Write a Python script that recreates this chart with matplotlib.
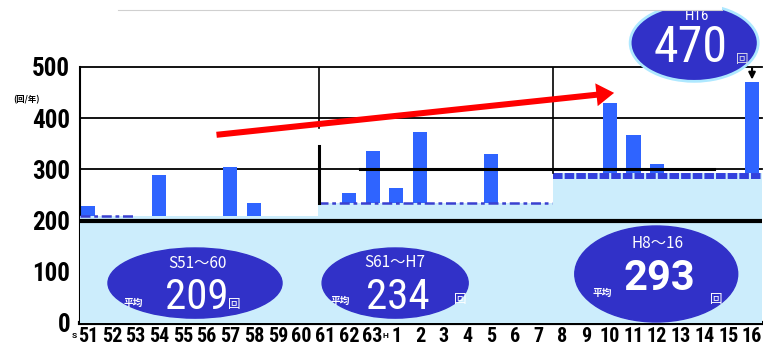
import matplotlib.pyplot as plt
from matplotlib.patches import Ellipse, FancyArrowPatch, Rectangle
from matplotlib.lines import Line2D

# 年 (S51〜S63, H1〜H16)
years = ['51', '52', '53', '54', '55', '56', '57', '58', '59', '60', '61', '62', '63',
         '1', '2', '3', '4', '5', '6', '7', '8', '9', '10', '11', '12', '13', '14', '15', '16']
# 回/年
counts = [228, 190, 185, 290, 150, 160, 305, 234, 170, 178,
          160, 254, 335, 264, 374, 150, 165, 330, 140, 168,
          220, 200, 430, 367, 310, 215, 205, 220, 470]

periods = ['S51～60', 'S61～H7', 'H8～16']
period_avg = [209, 234, 293]
period_edges = [-0.34, 9.7, 19.6, 28.42]

COND = ['Roboto Condensed', 'DejaVu Sans']
SANS = ['Roboto', 'DejaVu Sans']
JP = ['Noto Sans CJK JP', 'DejaVu Sans']
BAR = '#2f64ff'
PALE = '#ccedfc'
DARK = '#3131c8'

fig = plt.figure(figsize=(7.63, 3.5), dpi=100)
ax = fig.add_axes([80 / 763, 27 / 350, 682 / 763, 256 / 350])
x = range(len(years))

# bars from zero, the period average band is laid over them
ax.bar(x, counts, width=0.6, color=BAR, zorder=2)
for i in range(3):
    ax.fill_between([period_edges[i], period_edges[i + 1]], 0, period_avg[i],
                    color=PALE, lw=0, zorder=3)

ax.plot([-0.34, 1.98], [period_avg[0]] * 2, color='#3a40d0', lw=1.8,
        dashes=[4, 1.5, 1.5, 1.5], zorder=4)
ax.plot([9.7, 19.55], [period_avg[1]] * 2, color='#3a40d0', lw=1.8,
        dashes=[4, 1.5, 1.5, 1.5], zorder=4)
ax.plot([19.6, 28.42], [period_avg[2] - 5] * 2, color='#3340dd', lw=4.3,
        dashes=[1.6, 0.35], zorder=4)

# grid
for v in [300, 400, 500]:
    ax.axhline(v, color='black', lw=1.3, zorder=1, clip_on=False)
ax.axhline(200, color='black', lw=3, zorder=5)
ax.plot([11.47, 26.4], [300, 300], color='black', lw=2.2, zorder=5)

# period dividers
ax.plot([9.74, 9.74], [500, 380], color='black', lw=1.2, zorder=5)
ax.plot([9.74, 9.74], [345, 234], color='black', lw=2.2, zorder=5)
ax.plot([19.61, 19.61], [500, 293], color='black', lw=1.2, zorder=5)

ax.set_xlim(-0.34, 28.42)
ax.set_ylim(0, 500)
for s in ['top', 'right']:
    ax.spines[s].set_visible(False)
ax.spines['left'].set_linewidth(1.5)
ax.spines['bottom'].set_linewidth(3)

ax.set_yticks([0, 100, 200, 300, 400, 500])
ax.set_yticklabels(['0', '100', '200', '300', '400', '500'],
                   fontfamily=COND, fontstretch='condensed', fontsize=18, fontweight='bold')
ax.set_xticks(list(x))
ax.set_xticklabels(years, fontfamily=COND, fontstretch='condensed', fontsize=14.5, fontweight='bold')
ax.tick_params(axis='both', length=0)
ax.tick_params(axis='y', pad=7)
ax.tick_params(axis='x', pad=3)

# era marks in front of 51 and 1
ax.text(-0.6, -0.035, 'S', transform=ax.get_xaxis_transform(), fontsize=6,
        fontweight='bold', ha='center', va='top', family=SANS)
ax.text(12.55, -0.035, 'H', transform=ax.get_xaxis_transform(), fontsize=6,
        fontweight='bold', ha='center', va='top', family=SANS)
fig.text(27 / 763, 1 - 100 / 350, '(回/年)', fontsize=6, fontweight='bold',
         ha='center', va='center', family=JP)

# trend arrow
ax.add_patch(FancyArrowPatch((5.3, 367), (22.3, 450),
                             arrowstyle='simple,tail_width=0.29,head_width=1.1,head_length=0.85',
                             mutation_scale=15, color='red', lw=0, zorder=9))

# period average ellipses
ax.add_patch(Ellipse((4.51, 78), 7.34, 137, color=DARK, zorder=6))
ax.text(4.6, 117, periods[0], color='white', fontsize=11, ha='center', va='center', family=JP, zorder=7)
ax.text(4.6, 49, str(period_avg[0]), color='white', fontsize=31, ha='center', va='center',
        family=COND, fontstretch='condensed', zorder=7)
ax.text(1.9, 39, '平均', color='white', fontsize=7, fontweight='bold', ha='center', va='center',
        family=JP, zorder=7)
ax.text(6.15, 37, '回', color='white', fontsize=9, ha='center', va='center', family=JP, zorder=7)

ax.add_patch(Ellipse((12.95, 78), 6.16, 137, color=DARK, zorder=6))
ax.text(12.95, 119, periods[1], color='white', fontsize=11, ha='center', va='center', family=JP, zorder=7)
ax.text(13.07, 49, str(period_avg[1]), color='white', fontsize=31, ha='center', va='center',
        family=COND, fontstretch='condensed', zorder=7)
ax.text(10.63, 43, '平均', color='white', fontsize=7, fontweight='bold', ha='center', va='center',
        family=JP, zorder=7)
ax.text(15.7, 45, '回', color='white', fontsize=9, ha='center', va='center', family=JP, zorder=7)

ax.add_patch(Ellipse((23.96, 95.7), 6.87, 187.5, color=DARK, zorder=6))
ax.text(24.0, 156, periods[2], color='white', fontsize=11, ha='center', va='center', family=JP, zorder=7)
ax.text(24.1, 86, str(period_avg[2]), color='white', fontsize=30, fontweight='bold', ha='center',
        va='center', family=SANS, zorder=7)
ax.text(21.7, 58, '平均', color='white', fontsize=7, fontweight='bold', ha='center', va='center',
        family=JP, zorder=7)
ax.text(26.5, 45, '回', color='white', fontsize=9, ha='center', va='center', family=JP, zorder=7)

# H16 callout
ax.add_patch(Ellipse((25.56, 547), 5.4, 150, facecolor=DARK, edgecolor='#aee8ff', lw=2,
                     zorder=8, clip_on=False))
ax.text(25.7, 599, 'H16', color='white', fontsize=11, ha='center', va='center', family=COND,
        fontstretch='condensed', zorder=9, clip_on=False)
ax.text(25.4, 537, str(counts[-1]), color='white', fontsize=36, ha='center', va='center',
        family=COND, fontstretch='condensed', zorder=9, clip_on=False)
ax.text(27.6, 515, '回', color='#d8d8e8', fontsize=9, ha='center', va='center', family=JP,
        zorder=9, clip_on=False)
ax.annotate('', xy=(28, counts[-1]), xytext=(28, 503),
            arrowprops=dict(arrowstyle='-|>', color='black', lw=1.5, mutation_scale=10),
            zorder=9, annotation_clip=False)

# white strip along the top edge
fig.add_artist(Rectangle((0, 1 - 10 / 350), 722 / 763, 10 / 350, transform=fig.transFigure,
                         facecolor='white', edgecolor='none', zorder=20))
fig.add_artist(Line2D([118 / 763, 722 / 763], [1 - 10 / 350] * 2, transform=fig.transFigure,
                      color='#d0d0d0', lw=0.8, zorder=21))

fig.savefig('out.png', dpi=100)
